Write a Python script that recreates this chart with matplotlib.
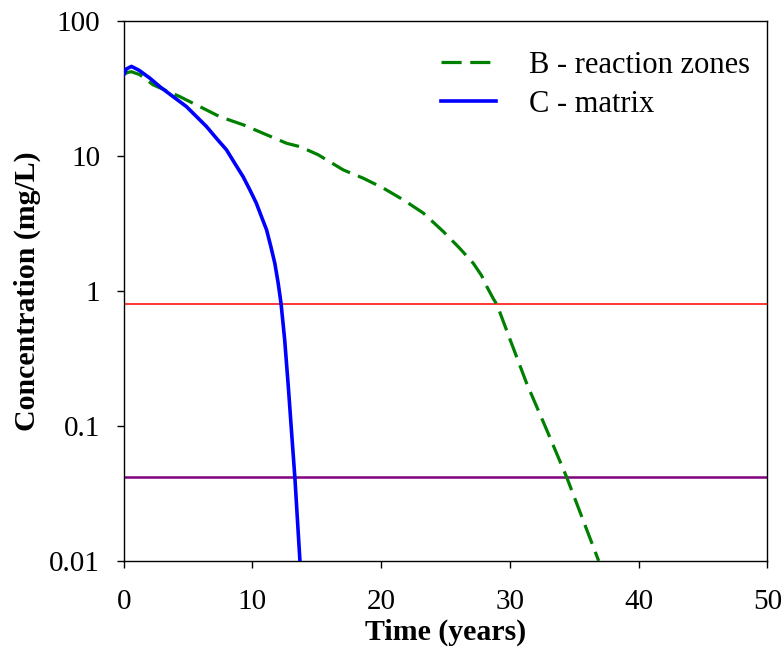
import numpy as np
import matplotlib.pyplot as plt
from matplotlib.ticker import FixedLocator, FixedFormatter, NullLocator

plt.rcParams['font.family'] = ['Liberation Serif', 'DejaVu Serif']

# B - reaction zones (time in years, concentration in mg/L)
t_b = [0.0, 0.3, 0.6, 1.24, 2.28, 4.35, 5.9, 7.47, 9.28, 10.83, 12.65, 13.7,
       15.1, 17.06, 18.6, 20.17, 21.73, 23.28, 24.83, 26.1, 27.16, 27.8, 28.2,
       28.7, 29.0, 30.0, 31.3, 32.87, 34.4, 36.9]
c_b = [40.0, 41.5, 42.0, 40.0, 33.6, 27.5, 23.2, 19.5, 17.0, 14.7, 12.4, 11.7,
       10.2, 7.87, 6.84, 5.77, 4.72, 3.77, 2.75, 2.07, 1.6, 1.3, 1.08,
       0.88, 0.79, 0.44, 0.207, 0.093, 0.042, 0.01]

# C - matrix
t_c = [0.0, 0.2, 0.6, 1.2, 2.02, 2.8, 3.83, 4.87, 6.43, 7.2, 7.98, 8.63, 9.28,
       9.8, 10.3, 10.7, 11.1, 11.43, 11.74, 12.0, 12.22, 12.5, 12.8, 13.1,
       13.3, 13.69]
c_c = [40.0, 44.0, 46.0, 43.0, 37.7, 32.6, 27.5, 23.2, 16.5, 13.5, 11.1, 8.8,
       7.0, 5.6, 4.47, 3.55, 2.83, 2.13, 1.6, 1.14, 0.81, 0.44, 0.188, 0.075,
       0.041, 0.01]

# reference levels
level_red = 0.8
level_purple = 0.042

ytick_vals = [0.01, 0.1, 1, 10, 100]
ytick_labels = ['0.01', '0.1', '1', '10', '100']

fig = plt.figure(figsize=(7.83, 6.52), dpi=100)
ax = fig.add_axes([0.158, 0.1396, 0.822, 0.8284])

ax.axhline(level_red, color='#ff0000', lw=1.1, zorder=1)
ax.axhline(level_purple, color='#800080', lw=1.8, zorder=1)

ax.plot(t_b, c_b, color='#008000', lw=2.3, linestyle=(0, (6.3, 2.7)),
        label='B - reaction zones', zorder=3)
ax.plot(t_c, c_c, color='#0000ff', lw=2.6, label='C - matrix', zorder=3)

ax.set_yscale('log')
ax.set_xlim(0, 50)
ax.set_ylim(0.01, 100)
ax.yaxis.set_major_locator(FixedLocator(ytick_vals))
ax.yaxis.set_major_formatter(FixedFormatter(ytick_labels))
ax.yaxis.set_minor_locator(NullLocator())
ax.set_xticks([0, 10, 20, 30, 40, 50])

ax.tick_params(direction='out', length=5, width=1, labelsize=21)
ax.tick_params(axis='y', pad=12)
ax.tick_params(axis='x', pad=15)
for s in ax.spines.values():
    s.set_linewidth(1)

ax.set_xlabel('Time (years)', fontsize=21.5, fontweight='bold', labelpad=3)
ax.set_ylabel('Concentration (mg/L)', fontsize=21.5, fontweight='bold', labelpad=6)

ax.legend(loc='upper right', bbox_to_anchor=(0.9736, 0.944), frameon=False,
          fontsize=22, handlelength=1.8, handletextpad=1.1, labelspacing=0.33,
          borderaxespad=0, borderpad=0)

fig.savefig('out.png', dpi=100)
